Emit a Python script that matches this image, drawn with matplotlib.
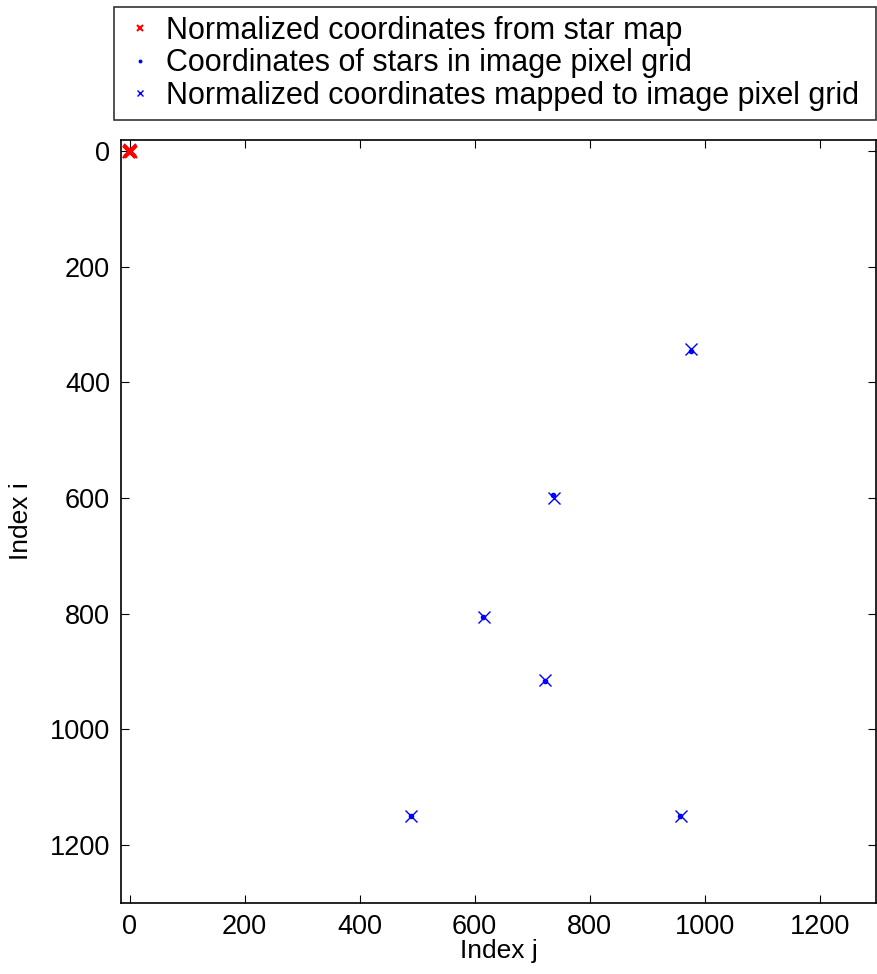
import matplotlib
matplotlib.use("Agg")
import matplotlib.pyplot as plt

plt.rcParams['font.family'] = ['Liberation Sans', 'DejaVu Sans']

# Normalized coordinates from star map (all near origin)
norm_j = [0.0, 1.5, -1.0, 2.0, 0.5, -0.5]
norm_i = [0.0, -1.0, 1.5, 1.0, -0.5, 2.0]

# Coordinates of stars in image pixel grid
star_j = [976, 736, 614, 722, 489, 957]
star_i = [346, 595, 806, 917, 1150, 1150]

# Normalized coordinates mapped to image pixel grid
map_j = [977, 738, 616, 723, 490, 959]
map_i = [343, 600, 806, 915, 1150, 1150]

xticks = [0, 200, 400, 600, 800, 1000, 1200]
yticks = [0, 200, 400, 600, 800, 1000, 1200]

fig = plt.figure(figsize=(8.77, 9.74), dpi=100)
ax = fig.add_axes([121/877, 1-903/974, (876-121)/877, (903-140)/974])

h1, = ax.plot(norm_j, norm_i, 'x', color='red', ms=8, mew=1.5, linestyle='none',
              label='Normalized coordinates from star map')
h2, = ax.plot(star_j, star_i, '.', color='blue', ms=6, linestyle='none',
              label='Coordinates of stars in image pixel grid')
h3, = ax.plot(map_j, map_i, 'x', color='blue', ms=8, mew=1.0, linestyle='none',
              label='Normalized coordinates mapped to image pixel grid')

ax.set_xlim(-15, 1298)
ax.set_ylim(1300, -19)
ax.set_xticks(xticks)
ax.set_yticks(yticks)
ax.tick_params(direction='in', top=True, right=True, labelsize=19.5, length=6, width=0.8, pad=8)
for s in ax.spines.values():
    s.set_linewidth(1.2)
ax.set_xlabel('Index j', fontsize=19, labelpad=-1)
ax.set_ylabel('Index i', fontsize=19, labelpad=12)

leg = fig.legend(handles=[h1, h2, h3], loc='lower left',
                 bbox_to_anchor=(114/877, 1-120/974, (876-114)/877, 112/974),
                 mode='expand', fontsize=22, frameon=True, fancybox=False,
                 edgecolor='black', markerscale=0.6, handlelength=1.1,
                 handletextpad=0.3, borderaxespad=0, labelspacing=0.08,
                 borderpad=0.3)
leg.get_frame().set_linewidth(1.2)

fig.savefig('out.png', dpi=100)
